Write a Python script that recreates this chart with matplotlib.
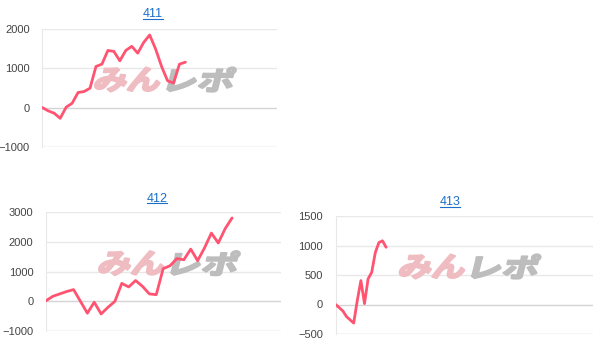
import matplotlib
matplotlib.use("Agg")
import matplotlib.pyplot as plt
from matplotlib.textpath import TextPath
from matplotlib.patches import PathPatch
from matplotlib.font_manager import FontProperties
from matplotlib.transforms import Affine2D, IdentityTransform
from matplotlib.lines import Line2D

plt.rcParams["font.family"] = ["Liberation Sans", "DejaVu Sans"]

LINE_COLOR = "#ff5471"
PINK = "#efbcc2"
GRAY = "#bdbdbd"
TITLE_COLOR = "#1a6fc9"

# values per machine (one point per data slot)
vals_411 = [0, -85, -145, -275, 10, 110, 385, 410, 495, 1050, 1110, 1460, 1435,
            1195, 1460, 1565, 1390, 1665, 1855, 1495, 1050, 685, 625, 1110, 1160]
vals_412 = [20, 170, 250, 330, 395, 0, -400, -30, -425, -200, 0, 605, 485, 700,
            505, 250, 225, 1100, 1200, 1440, 1400, 1760, 1370, 1800, 2300, 1965,
            2450, 2810]
vals_413 = [0, -55, -110, -205, -260, -315, 70, 405, 15, 435, 545, 880, 1050,
            1080, 970]

titles = ["411", "412", "413"]
y_ticks = [[-1000, 0, 1000, 2000],
           [-1000, 0, 1000, 2000, 3000],
           [-500, 0, 500, 1000, 1500]]
x_slots = [39.3, 34.1, 71.4]

W, H = 614, 354
fig = plt.figure(figsize=(W / 100, H / 100), dpi=100)


def px_axes(left, right, top, bottom):
    return fig.add_axes([left / W, (H - bottom) / H, (right - left) / W, (bottom - top) / H])


axes = [px_axes(42.3, 276.7, 29.3, 146.7),
        px_axes(46.0, 281.0, 212.3, 331.0),
        px_axes(335.7, 592.7, 216.0, 334.0)]
title_pos = [(153, 17.3), (157, 201.7), (450, 205)]


def add_logo(ax, dx=6, dy=8.5):
    bb = ax.bbox
    cx = (bb.x0 + bb.x1) / 2 + dx
    cy = (bb.y0 + bb.y1) / 2 + dy
    fp = FontProperties(family="Noto Sans CJK JP", weight="bold")
    for txt, color, x0 in [("みん", PINK, -72), ("レポ", GRAY, 1)]:
        tp = TextPath((0, 0), txt, size=34, prop=fp)
        ext = tp.get_extents()
        tr = (Affine2D().translate(-ext.x0, -ext.y0)
              .scale(64 / ext.width, 24 / ext.height)
              .skew_deg(14, 0)
              .translate(cx + x0, cy - 12))
        patch = PathPatch(tr.transform_path(tp), transform=IdentityTransform(),
                          facecolor=color, edgecolor=color, lw=1.6, joinstyle="round",
                          zorder=1, clip_on=False)
        ax.add_artist(patch)


for ax, vals, ticks, slots in zip(axes, [vals_411, vals_412, vals_413], y_ticks, x_slots):
    add_logo(ax)
    ax.plot(range(len(vals)), vals, color=LINE_COLOR, lw=2.0, zorder=3,
            solid_joinstyle="round", solid_capstyle="round")
    for t in ticks:
        c = "#d4d4d4" if t in (0, ticks[0]) else "#e8e8e8"
        ax.axhline(t, color=c, lw=1.0, zorder=0)
    ax.set_xlim(0, slots)
    ax.set_ylim(ticks[0], ticks[-1])
    ax.set_yticks(ticks)
    ax.set_xticks([])
    for s in ["top", "right", "bottom"]:
        ax.spines[s].set_visible(False)
    ax.spines["left"].set_color("#e8e8e8")
    ax.tick_params(axis="y", length=0, pad=9, labelsize=8, labelcolor="#444444")

fig.canvas.draw()
renderer = fig.canvas.get_renderer()
for title, (tx, ty) in zip(titles, title_pos):
    t = fig.text(tx / W, (H - ty) / H, title, ha="center", va="baseline",
                 fontsize=9, color=TITLE_COLOR)
    ext = t.get_window_extent(renderer)
    uy = (H - ty - 1.5) / H
    fig.add_artist(Line2D([(ext.x0 + 0.5) / W, (ext.x1 - 0.5) / W], [uy, uy],
                          color=TITLE_COLOR, lw=0.8, transform=fig.transFigure))

fig.savefig("out.png", dpi=100)
